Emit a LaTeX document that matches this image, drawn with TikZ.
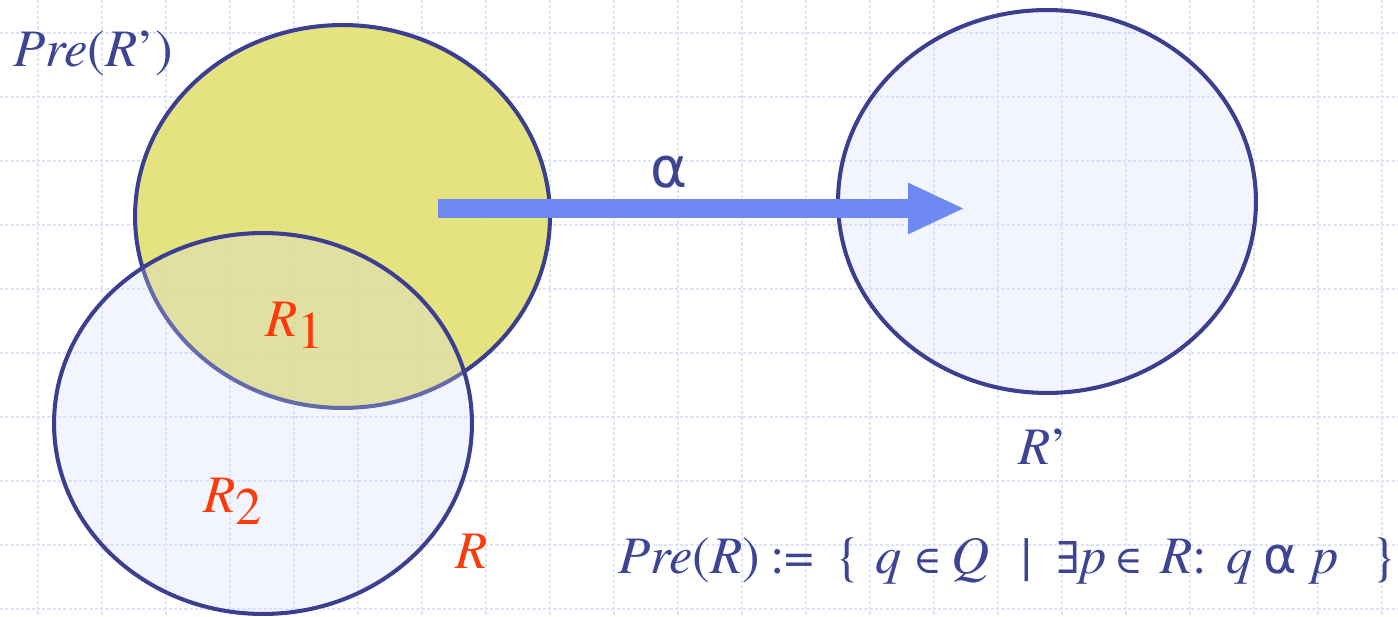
\documentclass[tikz,border=0pt]{standalone}
\usepackage{fontspec}
\setmainfont{TeX Gyre Termes}
\newfontfamily\symfam{DejaVu Serif}
\newfontfamily\grkfam{DejaVu Sans}
\usetikzlibrary{arrows.meta,shapes.geometric}
\definecolor{ink}{HTML}{3D4494}
\definecolor{rim}{HTML}{3C3F8F}
\definecolor{hot}{HTML}{FF3A0A}
\definecolor{gridc}{HTML}{DCE3F7}
\definecolor{yel}{HTML}{E2E072}
\definecolor{sky}{HTML}{D2DBF8}
\definecolor{flowc}{HTML}{6E8AF2}
% one piece of the formula in a box of fixed width
\newcommand\slot[2]{\makebox[#1][l]{#2}}
\newcommand\elem{{\symfam\fontsize{22}{22}\selectfont ∈}}

\begin{document}
\begin{tikzpicture}[x=0.02cm,y=-0.02cm,
  every node/.style={font=\fontsize{30}{36}\selectfont,text=ink,inner sep=0pt},
  gridline/.style={gridc,line width=0.8pt,dash pattern=on 1.8pt off 1.2pt},
  region/.style={ellipse,draw=rim,line width=2.3pt},
  flow/.style={flowc,line width=0.38cm,-{Triangle[length=1.14cm,width=0.94cm]}}]
  \useasboundingbox (0,0) rectangle (1398,617);
  % background grid
  \foreach \k in {0,...,21} \draw[gridline] ({38+64*\k},0) -- ({38+64*\k},617);
  \foreach \k in {0,...,9} \draw[gridline] (0,{33+64*\k}) -- (1398,{33+64*\k});
  % the three regions
  \node[region,fill=yel,fill opacity=0.9,minimum width=8.3cm,minimum height=7.66cm] (pre) at (342.5,216.5) {};
  \node[region,fill=sky,fill opacity=0.28,minimum width=8.36cm,minimum height=7.62cm] (r) at (263,423.5) {};
  \node[region,fill=sky,fill opacity=0.28,minimum width=8.36cm,minimum height=7.66cm] (rp) at (1047,201.5) {};
  % transition
  \coordinate (tail) at (438,208.5);
  \coordinate (tip) at (965,208.5);
  \draw[flow] (tail) -- (tip);
  \node[font=\fontsize{32}{38}\selectfont] (alpha) at (669,172) {\grkfam α};
  % labels
  \node[anchor=base west] (prelbl) at (13,67) {\textit{Pre}(\textit{R}’)};
  \node[anchor=base west,text=hot] (r1) at (265,337) {\textit{R}\raisebox{-0.24cm}{1}};
  \node[anchor=base west,text=hot] (r2) at (203,512) {\textit{R}\raisebox{-0.26cm}{2}};
  \node[anchor=base west,text=hot] (rlbl) at (455,568) {\textit{R}};
  \node[anchor=base west] (rplbl) at (1018,464) {\textit{R}’};
  \node[anchor=base west] (predef) at (618,573)
    {\slot{3.04cm}{\textit{Pre}(\textit{R})}\slot{1.30cm}{:=}\slot{0.80cm}{\{}%
     \slot{0.76cm}{\textit{q}}\slot{0.76cm}{\elem}\slot{1.40cm}{\textit{Q}}%
     \slot{0.70cm}{|}\slot{1.16cm}{{\symfam\fontsize{25}{25}\selectfont ∃}\textit{p}}\slot{0.92cm}{\elem}%
     \slot{1.32cm}{\textit{R}:}\slot{0.74cm}{\textit{q}}%
     \slot{0.98cm}{\grkfam\fontsize{29}{29}\selectfont α}\slot{1.18cm}{\textit{p}}\}};
\end{tikzpicture}
\end{document}
